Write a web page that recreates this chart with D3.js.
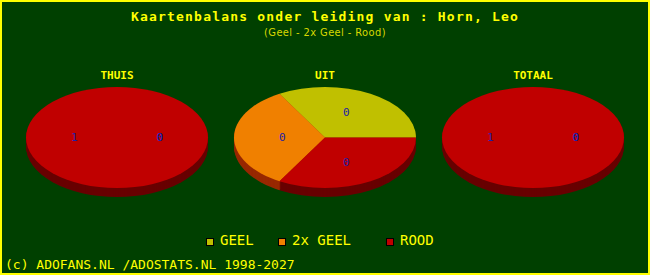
<!DOCTYPE html>
<meta charset="utf-8">
<script src="https://d3js.org/d3.v7.min.js"></script>
<style>
  body { margin: 0; background: #004000; }
  text { font-family: "DejaVu Sans Mono", monospace; }
</style>
<svg id="chart" width="650" height="275"></svg>
<script>

// data
var categories = ["GEEL", "2x GEEL", "ROOD"];
var pieTitles = ["THUIS", "UIT", "TOTAAL"];
var thuisValues = [0, 0, 1];
var uitValues = [0, 0, 0];
var totaalValues = [0, 0, 1];

var allValues = [thuisValues, uitValues, totaalValues];

// colours
var topColors = ["#c0c000", "#f08000", "#c00000"];
var sideColors = ["#6a6a00", "#982800", "#680000"];

var width = 650, height = 275;
var rx = 91, ry = 50.5, depth = 9, cy = 137.5;

var svg = d3.select("#chart");

// background + yellow frame
svg.append("rect")
  .attr("x", 1).attr("y", 1)
  .attr("width", width - 2).attr("height", height - 2)
  .attr("fill", "#004000")
  .attr("stroke", "#ffff00")
  .attr("stroke-width", 2);

// titles
svg.append("text")
  .attr("x", width / 2).attr("y", 21)
  .attr("text-anchor", "middle")
  .style("font-size", "13px").style("font-weight", "bold")
  .style("letter-spacing", "1.2px")
  .attr("fill", "#ffff00")
  .text("Kaartenbalans onder leiding van : Horn, Leo");

svg.append("text")
  .attr("x", 325).attr("y", 36)
  .attr("text-anchor", "middle")
  .style("font-family", "'DejaVu Sans Condensed', 'Liberation Sans Narrow', sans-serif")
  .style("font-size", "11px")
  .style("letter-spacing", "0.4px")
  .attr("fill", "#d8d800")
  .text("(Geel -  2x Geel - Rood)");

// one pie per column
var x = d3.scalePoint()
  .domain(pieTitles)
  .range([117, 533]);

var pie = d3.pie()
  .sort(null)
  .startAngle(Math.PI / 2)
  .endAngle(Math.PI / 2 - 2 * Math.PI);

var arc = d3.arc().innerRadius(0).outerRadius(rx);

pieTitles.forEach(function(title, i) {
  var vals = allValues[i];
  var total = d3.sum(vals);
  // all zero -> equal slices, like the original
  var slices = pie(total === 0 ? vals.map(function() { return 1; }) : vals);
  var cx = x(title);

  svg.append("text")
    .attr("x", cx).attr("y", 79)
    .attr("text-anchor", "middle")
    .style("font-size", "11px").style("font-weight", "bold")
    .attr("fill", "#ffff00")
    .text(title);

  // side walls: stacked darker copies
  for (var d = depth; d >= 1; d--) {
    svg.append("g")
      .attr("transform", "translate(" + cx + "," + (cy + d) + ") scale(1," + (ry / rx) + ")")
      .selectAll("path")
      .data(slices)
      .enter().append("path")
        .attr("d", arc)
        .attr("fill", function(s, j) { return sideColors[j]; });
  }

  // top face
  svg.append("g")
    .attr("transform", "translate(" + cx + "," + cy + ") scale(1," + (ry / rx) + ")")
    .selectAll("path")
    .data(slices)
    .enter().append("path")
      .attr("d", arc)
      .attr("fill", function(s, j) { return topColors[j]; });

  // value labels
  svg.append("g")
    .selectAll("text")
    .data(slices)
    .enter().append("text")
      .attr("x", function(s) { var a = (s.startAngle + s.endAngle) / 2; return cx + Math.sin(a) * rx * 0.47; })
      .attr("y", function(s) { var a = (s.startAngle + s.endAngle) / 2; return cy - Math.cos(a) * ry * 0.57; })
      .attr("dy", "0.35em")
      .attr("text-anchor", "middle")
      .style("font-size", "11px")
      .attr("fill", "#2020a8")
      .text(function(s, j) { return vals[j]; });
});

// legend
var legendX = [206, 278, 386];
var legend = svg.append("g");
categories.forEach(function(c, i) {
  legend.append("rect")
    .attr("x", legendX[i] + 0.5).attr("y", 238.5)
    .attr("width", 7).attr("height", 7)
    .attr("fill", topColors[i])
    .attr("stroke", "#000").attr("stroke-width", 1);
  legend.append("text")
    .attr("x", legendX[i] + 14).attr("y", 245)
    .style("font-size", "14px")
    .attr("fill", "#ffff00")
    .text(c);
});

// footer
svg.append("text")
  .attr("x", 5).attr("y", 269)
  .style("font-size", "13px")
  .attr("fill", "#ffff00")
  .text("(c) ADOFANS.NL /ADOSTATS.NL 1998-2027");

</script>
